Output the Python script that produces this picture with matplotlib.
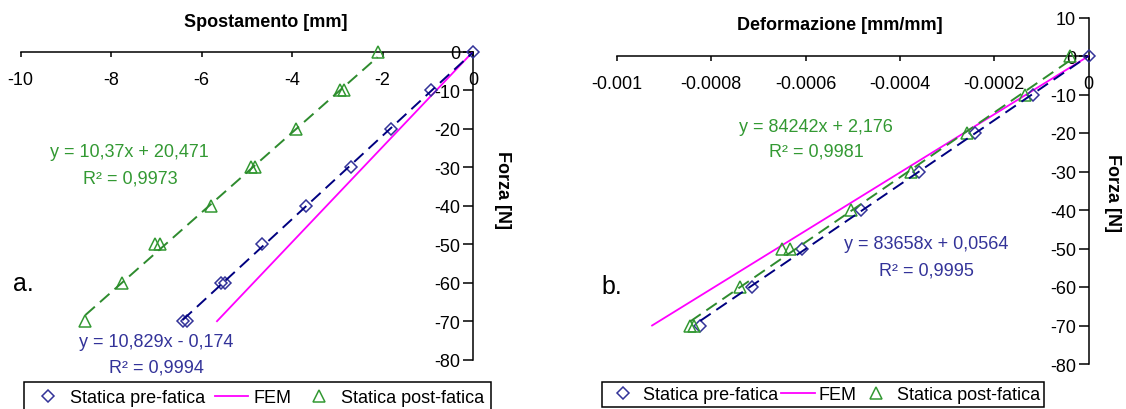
import matplotlib.pyplot as plt
import numpy as np

plt.rcParams['font.family'] = ['Liberation Sans', 'DejaVu Sans']
plt.rcParams['font.size'] = 13

# --- panel a: Spostamento [mm] vs Forza [N]
a_pre_x = [0, -0.93, -1.81, -2.70, -3.69, -4.67, -5.57, -5.48, -6.42, -6.33]
a_pre_y = [0, -10, -20, -30, -40, -50, -60, -60, -70, -70]
a_post_x = [-2.11, -2.86, -2.94, -3.92, -4.83, -4.91, -5.80, -6.92, -7.03, -7.76, -8.57]
a_post_y = [0, -10, -10, -20, -30, -30, -40, -50, -50, -60, -70]
a_fem_x = [0, -5.66]
a_fem_y = [0, -70]
a_pre_fit = (10.829, -0.174, 0.9994)
a_post_fit = (10.37, 20.471, 0.9973)

# --- panel b: Deformazione [mm/mm] vs Forza [N]
b_pre_x = [0, -0.0001185, -0.0002406, -0.0003585, -0.0004825, -0.000607, -0.000713, -0.000823]
b_pre_y = [0, -10, -20, -30, -40, -50, -60, -70]
b_post_x = [-0.00004, -0.000135, -0.000258, -0.000377, -0.000504, -0.00065, -0.000632,
            -0.000738, -0.000837, -0.000844]
b_post_y = [0, -10, -20, -30, -40, -50, -50, -60, -70, -70]
b_fem_x = [0, -0.000925]
b_fem_y = [0, -70]
b_pre_fit = (83658, 0.0564, 0.9995)
b_post_fit = (84242, 2.176, 0.9981)

W, H = 1126, 410
fig = plt.figure(figsize=(W / 100, H / 100), dpi=100)


def px_axes(x0, x1, ytop, ybot):
    return fig.add_axes([x0 / W, 1 - ybot / H, (x1 - x0) / W, (ybot - ytop) / H])


def fmt(v):
    return ('%g' % v).replace('.', ',')


def eq(fit):
    m, q, _ = fit
    sign = '+' if q >= 0 else '-'
    return 'y = %sx %s %s' % (fmt(m), sign, fmt(abs(q)))


def draw(ax, pre_x, pre_y, post_x, post_y, fem_x, fem_y, pre_fit, post_fit):
    ax.plot(pre_x, pre_y, 'D', ms=6.5, mfc='none', mec='#333399', mew=1.1,
            label='Statica pre-fatica', clip_on=False, zorder=4)
    ax.plot(fem_x, fem_y, color='#ff00ff', lw=1.3, label='FEM', zorder=3)
    ax.plot(post_x, post_y, '^', ms=9, mfc='none', mec='#339933', mew=1.1,
            label='Statica post-fatica', clip_on=False, zorder=4)
    xs = np.array([min(pre_x), max(pre_x)])
    ax.plot(xs, pre_fit[0] * xs + pre_fit[1], color='#000080', lw=1.4,
            dashes=(6.5, 3.5), zorder=5)
    xs = np.array([min(post_x), max(post_x)])
    ax.plot(xs, post_fit[0] * xs + post_fit[1], color='#2e8b2e', lw=1.4,
            dashes=(6.5, 3.5), zorder=5)


def style(ax, xlim, ylim, xticks, xlabels, yticks):
    ax.set_facecolor('none')
    ax.set_xlim(*xlim)
    ax.set_ylim(*ylim)
    for s in ['top', 'right']:
        ax.spines[s].set_visible(False)
    ax.spines['left'].set_position(('data', 0))
    ax.spines['bottom'].set_position(('data', 0))
    for s in ['left', 'bottom']:
        ax.spines[s].set_linewidth(1.1)
        ax.spines[s].set_zorder(1)
    ax.set_xticks(xticks)
    ax.set_xticklabels(xlabels)
    ax.set_yticks(yticks)
    ax.set_yticklabels([str(t) for t in yticks])
    ax.tick_params(axis='x', direction='out', length=3.4, width=1.1, pad=10.5)
    ax.tick_params(axis='y', direction='out', length=7, width=1.1, pad=2)


ax1 = px_axes(20.7, 473, 52.7, 360.7)
draw(ax1, a_pre_x, a_pre_y, a_post_x, a_post_y, a_fem_x, a_fem_y, a_pre_fit, a_post_fit)
style(ax1, (-10, 0), (-80, 0), [-10, -8, -6, -4, -2, 0],
      ['-10', '-8', '-6', '-4', '-2', '0'], list(range(0, -81, -10)))

ax2 = px_axes(616.7, 1088.7, 18.5, 365)
draw(ax2, b_pre_x, b_pre_y, b_post_x, b_post_y, b_fem_x, b_fem_y, b_pre_fit, b_post_fit)
style(ax2, (-0.001, 0), (-80, 10), [-0.001, -0.0008, -0.0006, -0.0004, -0.0002, 0],
      ['-0.001', '-0.0008', '-0.0006', '-0.0004', '-0.0002', '0'], list(range(10, -81, -10)))

green = '#339933'
blue = '#333399'
# trend line labels (panel a)
ax1.text(-7.6, -26.0, eq(a_post_fit), color=green, ha='center', va='center')
ax1.text(-7.57, -32.8, 'R² = ' + fmt(a_post_fit[2]), color=green, ha='center', va='center')
ax1.text(-7.0, -75.3, eq(a_pre_fit), color=blue, ha='center', va='center', clip_on=False)
ax1.text(-7.0, -81.9, 'R² = ' + fmt(a_pre_fit[2]), color=blue, ha='center', va='center', clip_on=False)
# trend line labels (panel b)
ax2.text(-0.000577, -18.4, eq(b_post_fit), color=green, ha='center', va='center')
ax2.text(-0.000577, -24.7, 'R² = ' + fmt(b_post_fit[2]), color=green, ha='center', va='center')
ax2.text(-0.000344, -48.8, eq(b_pre_fit), color=blue, ha='center', va='center')
ax2.text(-0.000344, -55.6, 'R² = ' + fmt(b_pre_fit[2]), color=blue, ha='center', va='center')

# axis titles and panel letters
fig.text(266 / W, 1 - 22.7 / H, 'Spostamento [mm]', weight='bold', ha='center', va='center')
fig.text(840 / W, 1 - 25 / H, 'Deformazione [mm/mm]', weight='bold', ha='center', va='center')
fig.text(503 / W, 1 - 190 / H, 'Forza [N]', weight='bold', rotation=-90, ha='center', va='center')
fig.text(1113 / W, 1 - 193 / H, 'Forza [N]', weight='bold', rotation=-90, ha='center', va='center')
fig.text(23 / W, 1 - 284 / H, 'a.', fontsize=18, ha='center', va='center')
fig.text(612 / W, 1 - 287 / H, 'b.', fontsize=18, ha='center', va='center')

# legends (bottom edge cut by the figure border, as in the source)
for ax, x0, cs, tp, bp in [(ax1, 24, 0.55, 0.3, 0.4), (ax2, 602, 0.15, 0.22, 0.22)]:
    h, l = ax.get_legend_handles_labels()
    leg = fig.legend(h, l, loc='upper left', ncol=3,
                     bbox_to_anchor=(x0 / W, 1 - 383 / H),
                     borderaxespad=0, frameon=True, fancybox=False,
                     edgecolor='black', handlelength=1.85, handletextpad=tp,
                     columnspacing=cs, borderpad=bp, fontsize=13, framealpha=1)
    leg.get_frame().set_linewidth(1.1)

fig.savefig('out.png', dpi=100)
